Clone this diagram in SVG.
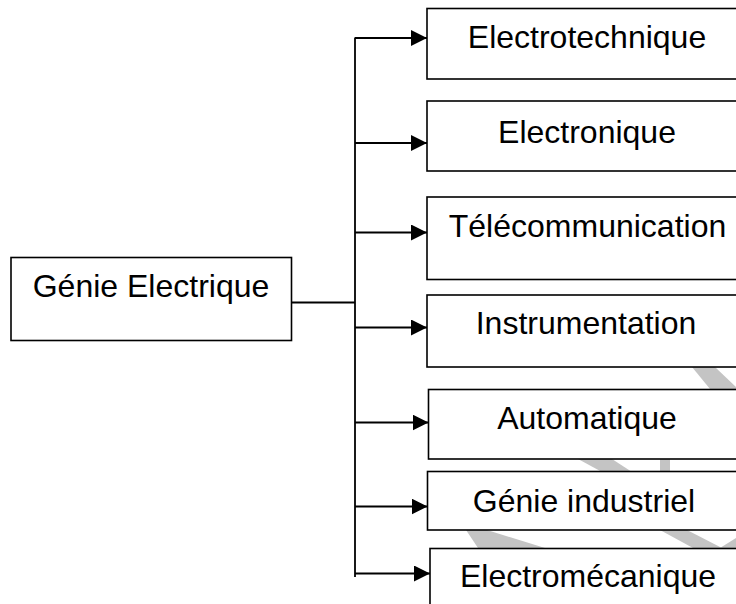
<svg xmlns="http://www.w3.org/2000/svg" width="736" height="604" viewBox="0 0 736 604">
  <defs>
    <style>
      .box { fill: #ffffff; stroke: #000000; stroke-width: 1.6; }
      .lbl { font-family: "Liberation Sans", Arial, sans-serif; font-size: 32px; fill: #000000; text-anchor: middle; }
      .conn { fill: none; stroke: #000000; stroke-width: 1.8; }
      .wm { fill: #c4c4c4; stroke: none; }
    </style>
    <marker id="arrow" markerUnits="userSpaceOnUse" markerWidth="16" markerHeight="16" viewBox="0 0 15 15" refX="15" refY="7.5" orient="auto">
      <path d="M0,0 L15,7.5 L0,15 Z" fill="#000000"/>
    </marker>
  </defs>
  <rect x="0" y="0" width="736" height="604" fill="#ffffff"/>

  <g id="watermark">
    <polygon class="wm" points="692,367 715,367 738,389 710,389"/>
    <polygon class="wm" points="578,459 612,459 632,472 602,472"/>
    <rect class="wm" x="660" y="459" width="10" height="13"/>
    <polygon class="wm" points="466,530 487,530 545,548 478,548"/>
    <polygon class="wm" points="660,530 687,530 722,548 693,548"/>
    <polygon class="wm" points="720,548 736,538 736,548"/>
  </g>

  <g id="connectors">
    <path class="conn" d="M291.5,302.5 H355"/>
    <path class="conn" d="M355,37.5 V577"/>
    <path class="conn" marker-end="url(#arrow)" d="M355,38 H427"/>
    <path class="conn" marker-end="url(#arrow)" d="M355,143 H427"/>
    <path class="conn" marker-end="url(#arrow)" d="M355,232.5 H427"/>
    <path class="conn" marker-end="url(#arrow)" d="M355,327.5 H427"/>
    <path class="conn" marker-end="url(#arrow)" d="M355,422.5 H428.5"/>
    <path class="conn" marker-end="url(#arrow)" d="M355,506.5 H427.5"/>
    <path class="conn" marker-end="url(#arrow)" d="M355,573.5 H430"/>
  </g>

  <g id="genie-electrique">
    <rect class="box" x="11" y="257.5" width="280.5" height="83"/>
    <text class="lbl" x="151" y="296.7">Génie Electrique</text>
  </g>
  <g id="electrotechnique">
    <rect class="box" x="427" y="8.5" width="330" height="70.5"/>
    <text class="lbl" x="587" y="48.3">Electrotechnique</text>
  </g>
  <g id="electronique">
    <rect class="box" x="427" y="101" width="330" height="70"/>
    <text class="lbl" x="587" y="142.7">Electronique</text>
  </g>
  <g id="telecommunication">
    <rect class="box" x="427" y="197" width="330" height="82.5"/>
    <text class="lbl" x="587.5" y="236.7">Télécommunication</text>
  </g>
  <g id="instrumentation">
    <rect class="box" x="427" y="295" width="330" height="72"/>
    <text class="lbl" x="586" y="334">Instrumentation</text>
  </g>
  <g id="automatique">
    <rect class="box" x="428.5" y="389.5" width="330" height="69.5"/>
    <text class="lbl" x="587" y="429.3">Automatique</text>
  </g>
  <g id="genie-industriel">
    <rect class="box" x="427.5" y="471.5" width="330" height="58.5"/>
    <text class="lbl" x="584" y="511.7">Génie industriel</text>
  </g>
  <g id="electromecanique">
    <rect class="box" x="430" y="548.5" width="330" height="80"/>
    <text class="lbl" x="588" y="587.3">Electromécanique</text>
  </g>
</svg>
